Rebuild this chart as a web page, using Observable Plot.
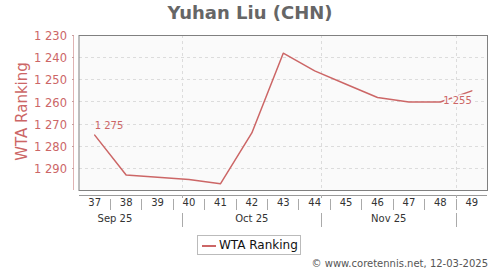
<!DOCTYPE html>
<html>
<head>
<meta charset="utf-8">
<script src="https://cdn.jsdelivr.net/npm/d3@7"></script>
<script src="https://cdn.jsdelivr.net/npm/@observablehq/plot@0.6"></script>
<style>
  html, body { margin: 0; padding: 0; background: #fff; }
  #wrap { position: relative; width: 500px; height: 270px; font-family: "DejaVu Sans", sans-serif; overflow: hidden; }
  #title { position: absolute; left: 0; top: 1px; width: 500px; text-align: center; font-weight: bold; font-size: 18px; line-height: 24px; color: #666; }
  #legend { position: absolute; left: 197px; top: 235px; width: 104px; height: 20px; border: 1px solid #bbb; background: #fff; box-sizing: border-box; }
  #legend .sw { position: absolute; left: 4px; top: 9px; width: 14px; height: 2px; background: #cc6666; }
  #legend .lt { position: absolute; left: 21px; top: 0; line-height: 19px; font-size: 12px; color: #111; white-space: nowrap; }
  #caption { position: absolute; right: 12px; top: 257px; font-size: 10px; line-height: 13px; color: #555; white-space: nowrap; }
  #chart { position: absolute; left: 0; top: 0; }
</style>
</head>
<body>
<div id="wrap">
  <div id="chart"></div>
  <div id="title">Yuhan Liu (CHN)</div>
  <div id="legend"><span class="sw"></span><span class="lt">WTA Ranking</span></div>
  <div id="caption">© www.coretennis.net, 12-03-2025</div>
</div>
<script>
// ---- data ----
const weeks = [37, 38, 39, 40, 41, 42, 43, 44, 45, 46, 47, 48, 49];
const ranking = [1275, 1293, 1294, 1295, 1297, 1274, 1238, 1246, 1252, 1258, 1260, 1260, 1255];
const yTicks = [1230, 1240, 1250, 1260, 1270, 1280, 1290];
const monthLabels = ["Sep 25", "Oct 25", "Nov 25"];
const monthStarts = ["2025-09-01", "2025-10-01", "2025-11-01", "2025-12-01"];
const firstWeekMonday = "2025-09-08"; // Monday of week 37
const yTitle = "WTA Ranking";

const red = "#cc6666";
const fmt = d => d3.format(",")(d).replace(/,/g, " ");

const rows = weeks.map((w, i) => ({week: w, rank: ranking[i]}));

// map a calendar date to the week coordinate (week n spans n-0.5 .. n+0.5)
const mon0 = new Date(firstWeekMonday + "T00:00:00Z");
const toWeek = s => weeks[0] - 0.5 + (new Date(s + "T00:00:00Z") - mon0) / (7 * 864e5);
const monthBounds = monthStarts.map(toWeek);
const monthCenters = monthLabels.map((m, i) => (monthBounds[i] + monthBounds[i + 1]) / 2);
const innerBounds = monthBounds.slice(1);
const weekSeps = weeks.slice(0, -1).map(w => w + 0.5);

const xDomain = [weeks[0] - 0.5, weeks[weeks.length - 1] + 0.5];

// custom axis decoration drawn with the plot's scales
function axisDecor(index, scales, values, dims) {
  const {x, y} = scales;
  const left = dims.marginLeft, right = dims.width - dims.marginRight;
  const top = dims.marginTop, bottom = dims.height - dims.marginBottom;
  const g = d3.create("svg:g").attr("fill", "none").attr("shape-rendering", "crispEdges");
  // y axis line
  g.append("line").attr("x1", left - 5.5).attr("x2", left - 5.5).attr("y1", top).attr("y2", bottom)
    .attr("stroke", "#dfb3b3");
  g.selectAll(".yt").data(yTicks).join("line")
    .attr("x1", left - 7).attr("x2", left - 4.5)
    .attr("y1", d => Math.round(y(d)) + 0.5).attr("y2", d => Math.round(y(d)) + 0.5)
    .attr("stroke", "#c9a0a0");
  // y title
  g.append("text")
    .attr("transform", `translate(${left - 57},${(top + bottom) / 2 - 1}) rotate(-90)`)
    .attr("text-anchor", "middle").attr("dy", "0.35em")
    .attr("fill", red).attr("font-size", 15).attr("shape-rendering", null)
    .text(yTitle);
  // bottom axis line
  g.append("line").attr("x1", left).attr("x2", right).attr("y1", bottom + 5.5).attr("y2", bottom + 5.5)
    .attr("stroke", "#999");
  // week separators
  g.selectAll(".ws").data(weekSeps).join("line")
    .attr("x1", d => Math.round(x(d)) + 0.5).attr("x2", d => Math.round(x(d)) + 0.5)
    .attr("y1", bottom + 9).attr("y2", bottom + 20)
    .attr("stroke", "#aaa");
  // month ticks and separators
  g.selectAll(".mt").data(innerBounds).join("line")
    .attr("x1", d => Math.round(x(d)) + 0.5).attr("x2", d => Math.round(x(d)) + 0.5)
    .attr("y1", bottom + 5).attr("y2", bottom + 8)
    .attr("stroke", "#aaa");
  g.selectAll(".ms").data(innerBounds).join("line")
    .attr("x1", d => Math.round(x(d)) + 0.5).attr("x2", d => Math.round(x(d)) + 0.5)
    .attr("y1", bottom + 23).attr("y2", bottom + 37)
    .attr("stroke", "#aaa");
  return g.node();
}

const plot = Plot.plot({
  width: 500,
  height: 270,
  marginTop: 35,
  marginBottom: 80,
  marginLeft: 78.5,
  marginRight: 13,
  style: {fontFamily: "DejaVu Sans, sans-serif", background: "transparent", overflow: "visible"},
  x: {type: "linear", domain: xDomain, axis: null},
  y: {domain: [1230, 1300], reverse: true, axis: null},
  marks: [
    Plot.frame({fill: "#fafafa", stroke: null}),
    Plot.ruleY(yTicks.slice(1), {stroke: "#dcdcdc", strokeDasharray: "3,3", shapeRendering: "crispEdges"}),
    Plot.ruleX(innerBounds, {stroke: "#dcdcdc", strokeDasharray: "3,3", shapeRendering: "crispEdges"}),
    Plot.frame({stroke: "#808080", strokeWidth: 1}),
    Plot.axisY({ticks: yTicks, tickSize: 0, tickPadding: 12, tickFormat: fmt, fill: red, fontSize: 11.5, label: null, dy: 1}),
    axisDecor,
    Plot.line(rows, {x: "week", y: "rank", stroke: red, strokeWidth: 1.5}),
    Plot.text([rows[0]], {x: "week", y: "rank", text: d => fmt(d.rank), textAnchor: "start", dy: -9.5, fill: red, fontSize: 10}),
    Plot.text([rows[rows.length - 1]], {x: "week", y: "rank", text: d => fmt(d.rank), textAnchor: "end", dy: 10, fill: red, fontSize: 10, stroke: "#fafafa", strokeWidth: 3}),
    Plot.text(weeks, {x: d => d, frameAnchor: "bottom", dy: 15, fontSize: 10, fill: "#333"}),
    Plot.text(monthLabels, {x: (d, i) => monthCenters[i], frameAnchor: "bottom", dy: 31, fontSize: 10, fill: "#333"})
  ]
});
document.getElementById("chart").appendChild(plot);
</script>
</body>
</html>
